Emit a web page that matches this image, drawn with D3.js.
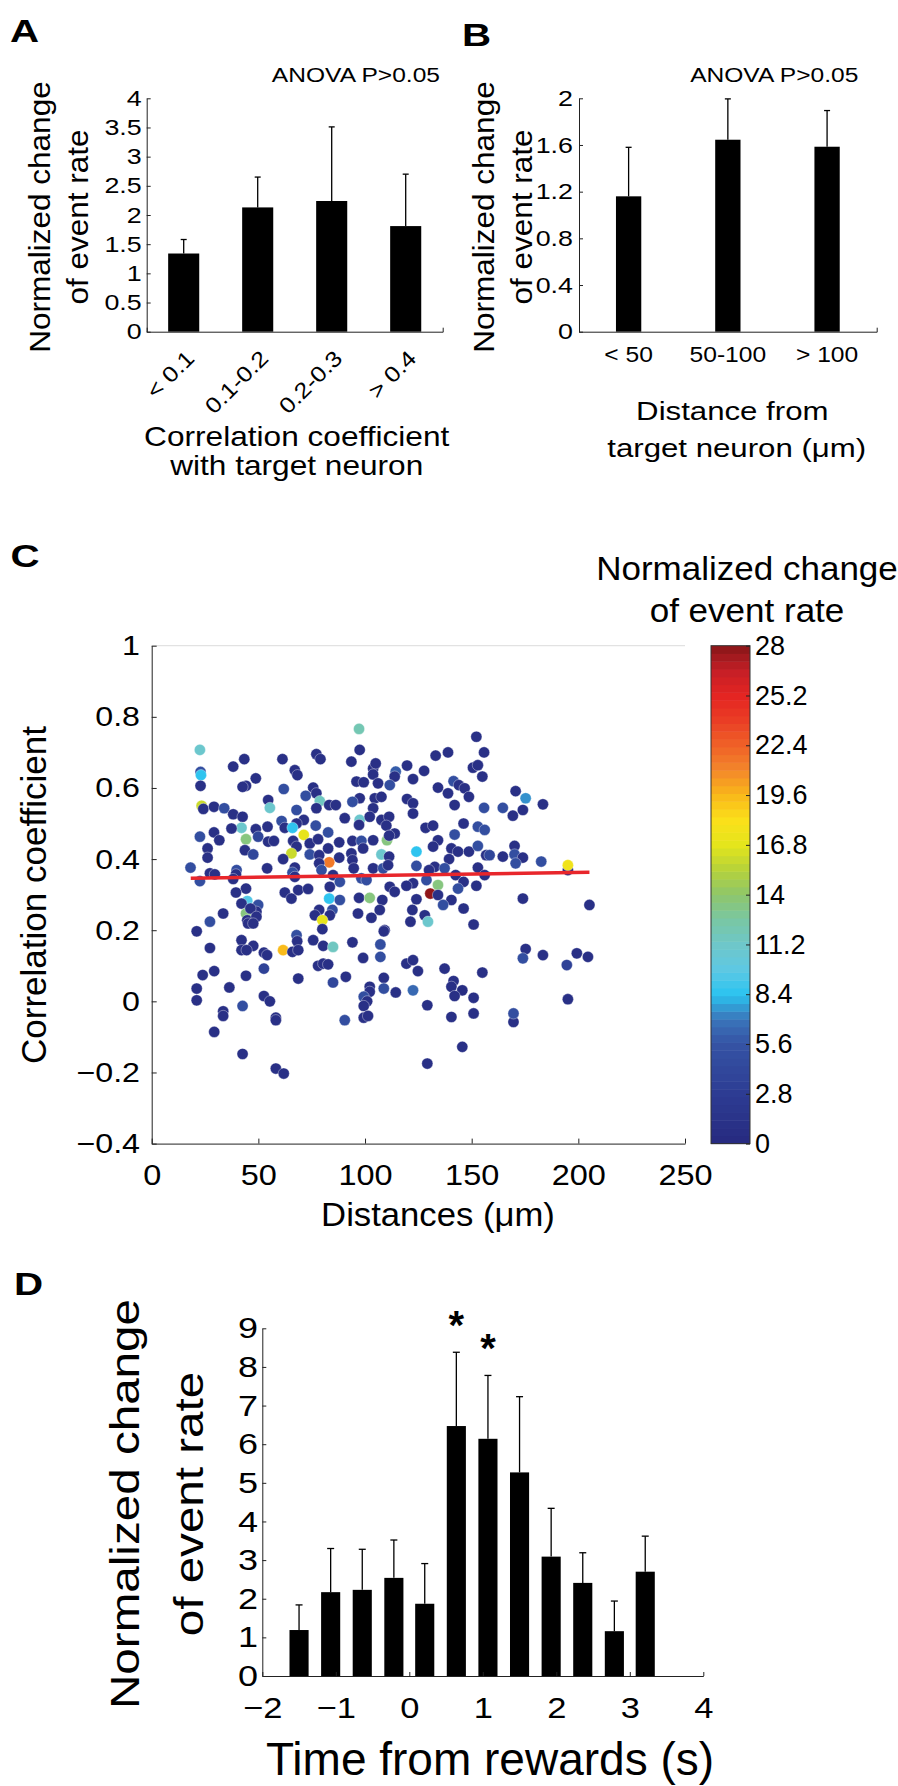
<!DOCTYPE html>
<html>
<head>
<meta charset="utf-8">
<script src="https://d3js.org/d3.v7.min.js"></script>
<style>
  body { margin: 0; background: #fff; }
  svg text { font-family: "Liberation Sans", Arial, Helvetica, sans-serif; fill: #000; }
</style>
</head>
<body>
<div id="fig"></div>
<script>
// ---- panel A : event rate by correlation bin
var corrBins = ["< 0.1", "0.1-0.2", "0.2-0.3", "> 0.4"];
var corrMean = [1.34, 2.13, 2.24, 1.81];
var corrSem = [0.24, 0.52, 1.27, 0.89];
var aTicks = [0, 0.5, 1, 1.5, 2, 2.5, 3, 3.5, 4];

// ---- panel B : event rate by distance bin
var distBins = ["< 50", "50-100", "> 100"];
var distMean = [1.16, 1.645, 1.585];
var distSem = [0.42, 0.35, 0.31];
var bTicks = [0, 0.4, 0.8, 1.2, 1.6, 2];

// ---- panel C : scatter, distance vs correlation, colour = normalized change
var cDist = [22.6,77.2,79.1,97.5,43.4,61.3,93.6,38.2,103.8,105.0,67.1,68.3,22.9,23.1,48.8,44.2,42.6,22.9,61.9,75.7,
  96.0,99.4,103.8,106.1,72.2,77.2,54.6,78.8,97.5,94.1,104.6,107.7,23.4,24.2,29.2,34.0,55.4,83.2,86.3,77.2,
  67.9,103.8,38.2,42.6,71.3,67.9,90.5,97.5,97.2,102.2,107.7,42.1,37.4,48.8,54.3,60.9,62.4,66.0,76.9,82.7,
  22.6,29.2,31.7,44.2,49.9,54.6,57.3,71.3,66.3,67.9,74.1,78.0,87.9,94.1,98.3,103.8,26.2,26.2,43.7,47.6,
  65.5,74.1,82.7,78.5,87.9,93.6,99.1,107.7,18.2,61.6,83.2,78.5,94.1,94.7,103.8,108.5,39.8,39.5,27.3,29.6,
  54.1,67.1,66.0,79.6,22.6,38.2,67.1,85.0,98.3,100.7,44.2,39.5,62.4,65.5,68.7,73.3,83.5,88.2,83.2,88.2,
  97.2,102.2,108.1,44.8,42.1,49.9,49.1,44.2,46.3,44.8,49.1,33.5,27.3,78.5,84.7,83.5,76.5,80.0,96.7,103.0,
  106.9,21.1,45.2,47.6,80.0,97.2,
  152.2,155.8,138.9,133.1,119.7,114.4,113.9,127.7,150.6,152.9,122.5,155.0,141.5,144.0,146.7,134.2,111.6,170.6,175.3,138.9,
  148.7,119.7,122.5,183.4,164.6,155.8,142.0,174.0,169.3,122.5,111.3,146.2,128.4,131.9,152.9,156.1,110.0,113.9,142.0,134.2,
  110.3,111.3,131.9,140.5,143.6,148.7,152.9,156.8,158.4,164.6,170.1,170.1,174.0,170.6,182.6,195.1,195.1,124.1,111.3,139.4,
  124.1,110.8,132.7,130.0,137.3,142.5,152.9,156.1,128.8,122.5,111.6,113.9,119.4,134.2,146.2,143.6,152.2,130.6,134.2,124.1,
  140.5,136.6,146.2,174.0,205.2,122.2,128.0,129.5,121.3,150.9,109.2,
  67.9,68.2,42.1,47.6,27.3,42.1,44.5,52.6,54.1,61.6,66.0,68.7,75.7,80.4,85.0,94.1,108.8,107.2,107.2,99.1,
  23.9,29.3,44.2,52.6,68.7,78.0,80.4,82.7,85.0,91.0,108.8,21.1,21.1,36.4,52.6,55.4,102.2,102.2,99.4,101.0,
  99.4,108.8,42.6,33.5,33.5,58.2,58.2,90.5,99.4,101.4,29.3,42.6,58.2,61.9,
  119.4,122.5,124.8,137.3,155.0,114.4,122.5,129.2,141.5,140.5,145.6,142.0,150.9,140.5,150.9,175.3,174.0,183.4,199.3,204.5,
  194.6,195.1,169.6,169.6,145.6,129.2];
var cCorr = [0.707,0.695,0.681,0.707,0.681,0.681,0.674,0.660,0.655,0.669,0.650,0.636,0.645,0.636,0.627,0.606,0.603,0.606,0.597,0.601,
  0.618,0.616,0.638,0.613,0.578,0.585,0.566,0.563,0.571,0.561,0.571,0.575,0.550,0.541,0.547,0.543,0.544,0.552,0.552,0.543,
  0.538,0.543,0.526,0.519,0.510,0.500,0.515,0.510,0.496,0.519,0.510,0.488,0.486,0.484,0.491,0.507,0.488,0.488,0.494,0.475,
  0.463,0.475,0.453,0.456,0.463,0.449,0.451,0.468,0.451,0.435,0.444,0.456,0.447,0.451,0.451,0.453,0.430,0.404,0.425,0.413,
  0.416,0.413,0.430,0.411,0.404,0.416,0.430,0.413,0.376,0.400,0.391,0.388,0.397,0.374,0.374,0.374,0.369,0.357,0.360,0.357,
  0.374,0.376,0.362,0.369,0.338,0.344,0.350,0.355,0.346,0.341,0.317,0.306,0.306,0.289,0.313,0.316,0.322,0.336,0.289,0.285,
  0.291,0.291,0.285,0.282,0.275,0.271,0.252,0.247,0.261,0.228,0.238,0.247,0.224,0.257,0.257,0.242,0.242,0.228,0.247,0.235,
  0.257,0.197,0.219,0.219,0.203,0.766,
  0.744,0.700,0.700,0.691,0.663,0.646,0.632,0.648,0.657,0.664,0.625,0.632,0.619,0.608,0.599,0.601,0.608,0.591,0.571,0.585,
  0.575,0.569,0.557,0.554,0.544,0.544,0.552,0.538,0.522,0.528,0.519,0.500,0.488,0.494,0.491,0.482,0.494,0.472,0.469,0.453,
  0.453,0.466,0.435,0.430,0.421,0.421,0.437,0.411,0.411,0.407,0.437,0.413,0.404,0.388,0.393,0.369,0.383,0.421,0.407,0.400,
  0.381,0.383,0.378,0.369,0.374,0.355,0.376,0.355,0.341,0.332,0.322,0.308,0.325,0.327,0.336,0.317,0.325,0.303,0.299,0.287,
  0.285,0.271,0.261,0.289,0.271,0.257,0.242,0.224,0.224,0.216,0.200,
  0.186,0.169,0.172,0.156,0.150,0.144,0.144,0.137,0.130,0.144,0.139,0.144,0.172,0.156,0.153,0.166,0.197,0.160,0.125,0.122,
  0.074,0.085,0.072,0.092,0.064,0.100,0.106,0.104,0.053,0.069,0.066,0.036,0.003,0.039,0.015,0.000,0.041,0.027,0.013,0.000,
  -0.013,0.036,-0.013,-0.028,-0.041,-0.046,-0.053,-0.053,-0.046,-0.041,-0.086,-0.148,-0.189,-0.203,
  0.106,0.116,0.085,0.092,0.081,0.025,0.031,-0.011,0.057,0.041,0.031,0.015,0.010,-0.044,-0.034,0.147,0.121,0.130,0.135,0.125,
  0.102,0.006,-0.058,-0.034,-0.128,-0.175];
var cRate = [11,1,1,1,1,1,1,1,1,1,1,1,5,8.5,1,1,1,1,5,1,
  1,1,1,1,5,1,1,11.5,1,5,1,1,16,1,1,5,11,1,1,1,
  5,1,1,1,1,1,1,11,1,1,1,11,1,1,1,5,1,8.5,5,5,
  5,1,1,13.5,4,1,1,17,1,1,1,1,1,1,5,1,1,1,1,4,
  16,5,1,1,1,1,1,11,5,1,21.5,1,1,1,1,5,5,1,1,1,
  1,1,5,5,5,1,1,1,5,5,1,1,1,1,1,1,1,5,8.5,5,
  1,13.5,1,9.5,1,5,1,13.5,1,1,1,1,5,1,5,1,1,17,1,1,
  1,1,1,1,1,12,
  1,1,1,1,1,6,1,1,1,1,1,1,5,1,1,1,5,1,7.5,1,
  1,1,1,1,5,5,1,1,1,1,1,1,1,1,5,5,1,1,5,1,
  13.5,1,1,1,1,1,5,1,4,1,1,5,1,5,5,1,17.5,8.5,1,1,
  5,1,1,1,5,1,1,1,5,1,1,1,1,13.5,1,5,1,27.8,1,1,
  1,5,1,1,1,1,1,11,1,1,1,
  5,1,1,1,1,1,1,1,1,19.5,1,1,1,1,11.5,1,1,5,5,1,
  1,1,1,3.5,1,1,1,1,4,1,1,1,1,1,1,1,1,1,5,1,
  1,5,5,1,1,1,1,5,1,1,1,1,1,1,
  1,1,1,1,1,1,6.5,1,1,1,0.5,1,1,1,1,1,5,1,1,1,
  3.5,1,1,5,1,1];
var cTicksX = [0, 50, 100, 150, 200, 250];
var cTicksY = [-0.4, -0.2, 0, 0.2, 0.4, 0.6, 0.8, 1];
var fitX = [18.3, 205.2];
var fitY = [0.346, 0.363];
var rateTicks = [0, 2.8, 5.6, 8.4, 11.2, 14, 16.8, 19.6, 22.4, 25.2, 28];

// ---- panel D : event rate around reward time
var rewardTime = [-1.5, -1.07, -0.64, -0.21, 0.21, 0.64, 1.07, 1.5, 1.93, 2.36, 2.79, 3.21];
var rewardMean = [1.19, 2.17, 2.23, 2.54, 1.87, 6.47, 6.14, 5.27, 3.09, 2.41, 1.16, 2.70];
var rewardSem = [0.65, 1.13, 1.05, 0.98, 1.04, 1.91, 1.64, 1.96, 1.25, 0.78, 0.78, 0.92];
var rewardSig = [5, 6];
var dTicksX = [-2, -1, 0, 1, 2, 3, 4];
var dTicksY = [0, 1, 2, 3, 4, 5, 6, 7, 8, 9];

// jet-like colormap as it appears in the figure
var jetStops = [0, 2.8, 5.6, 7, 8.4, 9.8, 11.2, 12.6, 14, 15.4, 16.8, 18.2, 19.6, 21, 22.4, 23.8, 25.2, 26.6, 28];
var jetColors = ["#262a7f", "#2d3c93", "#3553a4", "#3a75ba", "#2bc4f0", "#5ec8e3", "#6ec7c9", "#79c7a3", "#8ec66b",
  "#b6d23a", "#e4e51c", "#fbe01a", "#f9b81a", "#f3872a", "#ef6127", "#ea3e25", "#e42422", "#c51f26", "#871518"];
var jet = d3.scaleLinear().domain(jetStops).range(jetColors).clamp(true);

var svg = d3.select("#fig").append("svg")
  .attr("width", 898).attr("height", 1786)
  .style("display", "block");

var fmt = d3.format("~g");

// text helper: stretched horizontally like the original figure
function label(x, y, txt, size, sx, anchor, rot, weight) {
  var tr = "translate(" + x + "," + y + ")" + (rot ? " rotate(" + rot + ")" : "") + " scale(" + sx + ",1)";
  return svg.append("text")
    .attr("transform", tr)
    .attr("text-anchor", anchor || "middle")
    .attr("font-size", size)
    .attr("font-weight", weight || "normal")
    .text(txt);
}

function styleAxis(g, size, sx) {
  g.attr("font-size", size).attr("font-family", null).attr("color", "#222");
  g.selectAll(".tick text").each(function () {
    var t = d3.select(this);
    var x = +t.attr("x") || 0;
    t.attr("x", x / sx).attr("transform", "scale(" + sx + ",1)");
  });
}

function errBars(g, xs, means, sems, y, cap) {
  g.selectAll(null).data(means).enter().append("line")
    .attr("x1", function (d, i) { return xs(i); })
    .attr("x2", function (d, i) { return xs(i); })
    .attr("y1", function (d) { return y(d); })
    .attr("y2", function (d, i) { return y(d + sems[i]); })
    .attr("stroke", "#000").attr("stroke-width", 1.3);
  g.selectAll(null).data(means).enter().append("line")
    .attr("x1", function (d, i) { return xs(i) - cap / 2; })
    .attr("x2", function (d, i) { return xs(i) + cap / 2; })
    .attr("y1", function (d, i) { return y(d + sems[i]); })
    .attr("y2", function (d, i) { return y(d + sems[i]); })
    .attr("stroke", "#000").attr("stroke-width", 1.3);
}

// ================= A =================
var aX = d3.scaleBand().domain(corrBins).range([146.7, 442.7]).paddingInner(0.58).paddingOuter(0.29);
var aY = d3.scaleLinear().domain([0, 4]).range([331.7, 98.3]);
var gA = svg.append("g");
gA.selectAll("rect").data(corrMean).enter().append("rect")
  .attr("x", function (d, i) { return aX(corrBins[i]); })
  .attr("width", aX.bandwidth())
  .attr("y", function (d) { return aY(d); })
  .attr("height", function (d) { return aY(0) - aY(d); })
  .attr("fill", "#000");
errBars(gA, function (i) { return aX(corrBins[i]) + aX.bandwidth() / 2; }, corrMean, corrSem, aY, 6);

var aYax = svg.append("g").attr("transform", "translate(146.7,0)")
  .call(d3.axisLeft(aY).tickValues(aTicks).tickFormat(fmt).tickSizeInner(-4).tickSizeOuter(0).tickPadding(5));
styleAxis(aYax, 22, 1.22);
var aXax = svg.append("g").attr("transform", "translate(0,331.7)")
  .call(d3.axisBottom(aX).tickSizeInner(0).tickSizeOuter(-4).tickPadding(0));
aXax.attr("font-size", 22).attr("font-family", null).attr("color", "#222");
aXax.selectAll(".tick text")
  .attr("y", 0).attr("dy", 0)
  .attr("text-anchor", "end")
  .attr("transform", "translate(12,28) rotate(-45) scale(1.15,1)");

label(10, 42, "A", 31, 1.3, "start", 0, "bold");
label(440, 82, "ANOVA P>0.05", 21, 1.17, "end");
label(50, 217, "Normalized change", 30, 1.05, "middle", -90);
label(88, 217, "of event rate", 30, 1.05, "middle", -90);
label(296.7, 446, "Correlation coefficient", 28, 1.13);
label(296.7, 475, "with target neuron", 28, 1.13);

// ================= B =================
var bX = d3.scaleBand().domain(distBins).range([579, 876.7]).paddingInner(0.745).paddingOuter(0.3725);
var bY = d3.scaleLinear().domain([0, 2]).range([331.7, 98.3]);
var gB = svg.append("g");
gB.selectAll("rect").data(distMean).enter().append("rect")
  .attr("x", function (d, i) { return bX(distBins[i]); })
  .attr("width", bX.bandwidth())
  .attr("y", function (d) { return bY(d); })
  .attr("height", function (d) { return bY(0) - bY(d); })
  .attr("fill", "#000");
errBars(gB, function (i) { return bX(distBins[i]) + bX.bandwidth() / 2; }, distMean, distSem, bY, 6);

var bYax = svg.append("g").attr("transform", "translate(579,0)")
  .call(d3.axisLeft(bY).tickValues(bTicks).tickFormat(fmt).tickSizeInner(-4).tickSizeOuter(0).tickPadding(6));
styleAxis(bYax, 22, 1.22);
var bXax = svg.append("g").attr("transform", "translate(0,331.7)")
  .call(d3.axisBottom(bX).tickSizeInner(0).tickSizeOuter(-4).tickPadding(14.4));
styleAxis(bXax, 22, 1.12);

label(462, 46, "B", 31, 1.3, "start", 0, "bold");
label(858.3, 82, "ANOVA P>0.05", 21, 1.17, "end");
label(493.5, 217, "Normalized change", 30, 1.05, "middle", -90);
label(531.7, 217, "of event rate", 30, 1.05, "middle", -90);
label(732.3, 420, "Distance from", 26, 1.2);
label(736.7, 456.7, "target neuron (\u03bcm)", 26, 1.2);

// ================= C =================
var cX = d3.scaleLinear().domain([0, 250]).range([151.7, 685]);
var cY = d3.scaleLinear().domain([-0.4, 1]).range([1143.6, 645.7]);

svg.append("line")
  .attr("x1", cX(0)).attr("x2", cX(250)).attr("y1", cY(1)).attr("y2", cY(1))
  .attr("stroke", "#e2e2e2").attr("stroke-width", 1.2);

var gC = svg.append("g");
gC.selectAll("circle").data(cDist).enter().append("circle")
  .attr("cx", function (d) { return cX(d); })
  .attr("cy", function (d, i) { return cY(cCorr[i]); })
  .attr("r", 5.6)
  .attr("fill", function (d, i) { return jet(cRate[i]); })
  .attr("stroke", "#ffffff").attr("stroke-opacity", 0.45).attr("stroke-width", 0.8);

gC.append("path")
  .datum(fitX)
  .attr("d", d3.line().x(function (d) { return cX(d); }).y(function (d, i) { return cY(fitY[i]); }))
  .attr("stroke", "#e8262b").attr("stroke-width", 3.5).attr("fill", "none");

var cYax = svg.append("g").attr("transform", "translate(151.7,0)")
  .call(d3.axisLeft(cY).tickValues(cTicksY).tickFormat(fmt).tickSizeInner(-5).tickSizeOuter(0).tickPadding(11.7));
styleAxis(cYax, 28, 1.15);
var cXax = svg.append("g").attr("transform", "translate(0,1143.6)")
  .call(d3.axisBottom(cX).tickValues(cTicksX).tickFormat(fmt).tickSizeInner(-5).tickSizeOuter(0).tickPadding(21));
styleAxis(cXax, 29, 1.12);

// colour bar
var cbY = d3.scaleLinear().domain([0, 28]).range([1143.6, 645.7]);
var nBands = 64;
var gCb = svg.append("g");
gCb.selectAll("rect").data(d3.range(nBands)).enter().append("rect")
  .attr("x", 711).attr("width", 39)
  .attr("y", function (i) { return cbY((i + 1) * 28 / nBands); })
  .attr("height", function (i) { return cbY(i * 28 / nBands) - cbY((i + 1) * 28 / nBands) + 0.5; })
  .attr("fill", function (i) { return jet((i + 0.5) * 28 / nBands); });
gCb.append("rect")
  .attr("x", 711).attr("width", 39).attr("y", cbY(28)).attr("height", cbY(0) - cbY(28))
  .attr("fill", "none").attr("stroke", "#333").attr("stroke-width", 1);
var cbAx = svg.append("g").attr("transform", "translate(750,0)")
  .call(d3.axisRight(cbY).tickValues(rateTicks).tickFormat(fmt).tickSizeInner(-4).tickSizeOuter(0).tickPadding(5));
styleAxis(cbAx, 27, 1.0);
cbAx.select(".domain").remove();

label(10.5, 567, "C", 31, 1.3, "start", 0, "bold");
label(747, 580, "Normalized change", 34, 1.03);
label(747, 622, "of event rate", 34, 1.03);
label(46, 895, "Correlation coefficient", 35, 1.0, "middle", -90);
label(438, 1226, "Distances (\u03bcm)", 34, 1.02);

// ================= D =================
var dX = d3.scaleLinear().domain([-2, 4]).range([262.3, 703.3]);
var dY = d3.scaleLinear().domain([0, 9]).range([1676, 1328.3]);
var barW = dX(0.26) - dX(0);
var gD = svg.append("g");
gD.selectAll("rect").data(rewardMean).enter().append("rect")
  .attr("x", function (d, i) { return dX(rewardTime[i]) - barW / 2; })
  .attr("width", barW)
  .attr("y", function (d) { return dY(d); })
  .attr("height", function (d) { return dY(0) - dY(d); })
  .attr("fill", "#000");
errBars(gD, function (i) { return dX(rewardTime[i]); }, rewardMean, rewardSem, dY, 7);

gD.selectAll("text.sig").data(rewardSig).enter().append("text")
  .attr("class", "sig")
  .attr("x", function (i) { return dX(rewardTime[i]); })
  .attr("y", function (i) { return dY(rewardMean[i] + rewardSem[i]) - 13; })
  .attr("text-anchor", "middle")
  .attr("font-size", 40).attr("font-weight", "bold")
  .text("*");

var dYax = svg.append("g").attr("transform", "translate(262.3,0)")
  .call(d3.axisLeft(dY).tickValues(dTicksY).tickFormat(fmt).tickSizeInner(-4).tickSizeOuter(0).tickPadding(4.3));
styleAxis(dYax, 30, 1.2);
var dXax = svg.append("g").attr("transform", "translate(0,1676)")
  .call(d3.axisBottom(dX).tickValues(dTicksX).tickFormat(fmt).tickSizeInner(-4).tickSizeOuter(0).tickPadding(20.4));
styleAxis(dXax, 30, 1.15);

label(14, 1295, "D", 31, 1.3, "start", 0, "bold");
label(139, 1504, "Normalized change", 40, 1.19, "middle", -90);
label(203.3, 1504, "of event rate", 40, 1.19, "middle", -90);
label(490, 1775, "Time from rewards (s)", 46, 1.0);
</script>
</body>
</html>
